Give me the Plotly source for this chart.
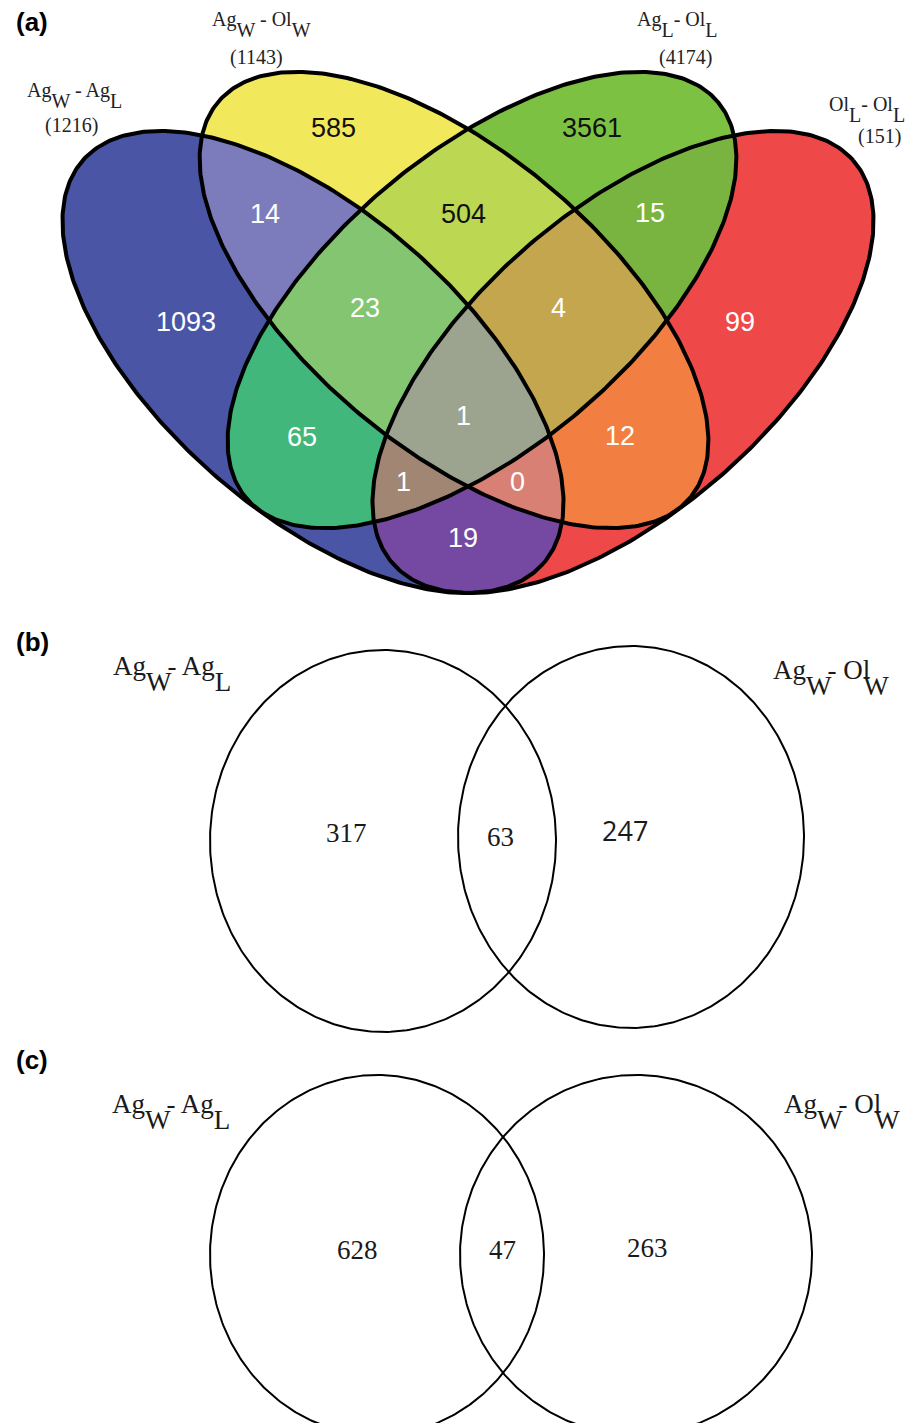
import numpy as np
import plotly.graph_objects as go

W, H = 922, 1423

# ---------------- data ----------------
# panel (a): four comparisons (name parts: text, subscript, text, subscript)
quad_set_parts = [("Ag", "W", " - Ag", "L"),
                  ("Ag", "W", " - Ol", "W"),
                  ("Ag", "L", "- Ol", "L"),
                  ("Ol", "L", "- Ol", "L")]
# exclusive region counts
region_keys = ["A", "B", "C", "D", "AB", "AC", "AD", "BC", "BD", "CD",
               "ABC", "ABD", "ACD", "BCD", "ABCD"]
region_counts = [1093, 585, 3561, 99, 14, 65, 19, 504, 12, 15,
                 23, 0, 1, 4, 1]

# panels (b) and (c): two comparisons each  [left only, shared, right only]
pair_set_parts = [("Ag", "W", "- Ag", "L"), ("Ag", "W", "- Ol", "W")]
pair_b_counts = [317, 63, 247]
pair_c_counts = [628, 47, 263]

# ---------------- styling / layout ----------------
SERIF = "Liberation Serif, Times New Roman, serif"
SANS = "Liberation Sans, Arial, sans-serif"

region_colors = {
    "A": "#4b55a6", "B": "#f1e95b", "C": "#7dc142", "D": "#ee4848",
    "AB": "#7c7bbb", "AC": "#41b77c", "AD": "#7548a2", "BC": "#bcd852",
    "BD": "#f27f41", "CD": "#7ab440",
    "ABC": "#84c571", "ABD": "#d88074", "ACD": "#a18674", "BCD": "#c4a64e",
    "ABCD": "#9ca48f",
}
dark_text_regions = {"B", "C", "BC"}
region_label_xy = {
    "A": (186, 322), "B": (333, 128), "C": (592, 128), "D": (740, 322),
    "AB": (265, 214), "BC": (463, 214), "CD": (650, 213),
    "ABC": (365, 308), "BCD": (558, 308),
    "AC": (302, 437), "ABCD": (463, 416), "BD": (620, 436),
    "ACD": (403, 482), "ABD": (517, 482), "AD": (463, 538),
}
# ellipse geometry in page pixels: cx, cy, semi-major, semi-minor, tilt (deg, y down)
quad_ellipses = {
    "A": (313, 362, 306, 150, 41.2),
    "B": (454, 300, 308, 148, 40.0),
    "C": (482, 300, 308, 148, -40.0),
    "D": (623, 362, 306, 150, -41.2),
}
quad_name_xy = [(74, 95), (261, 24), (677, 24), (867, 109)]
quad_total_xy = [(71, 125), (256, 57), (685, 57), (879, 136)]

pair_panels = [
    dict(counts=pair_b_counts,
         circles=[(383, 841, 173, 191), (631, 837, 173, 191)],
         count_xy=[(346, 833), (500, 837), (625, 830)],
         count_fonts=[SERIF, SERIF, "Open Sans, " + SANS],
         name_xy=[(172, 674), (831, 678)],
         letter_xy=(32, 642), letter="(b)"),
    dict(counts=pair_c_counts,
         circles=[(377, 1255, 167, 180), (636, 1255, 176, 180)],
         count_xy=[(357, 1250), (502, 1250), (647, 1248)],
         count_fonts=[SERIF, SERIF, SERIF],
         name_xy=[(171, 1112), (842, 1112)],
         letter_xy=(32, 1060), letter="(c)"),
]

SUB = '<span style="baseline-shift:-{}px;{}">{}</span>'


def label_html(parts, shift, tight=False):
    """Text with full-size, lowered subscripts."""
    t1, s1, t2, s2 = parts
    if not tight:
        return t1 + SUB.format(shift, "", s1) + t2 + SUB.format(shift, "", s2)
    # compact typesetting: the dash sits against the first subscript,
    # and a subscript after a narrow 'l' tucks under it
    t2 = t2.strip()
    head = t1 + SUB.format(shift, "letter-spacing:-4px;", s1) + t2[:-1]
    if t2.endswith("l"):
        head += '<span style="letter-spacing:-7px">l</span>'
    else:
        head += t2[-1]
    return head + SUB.format(shift, "", s2)


def ellipse_pts(cx, cy, a, b, deg, n=240):
    t = np.linspace(0, 2 * np.pi, n, endpoint=False)
    p = np.radians(deg)
    x = cx + a * np.cos(t) * np.cos(p) - b * np.sin(t) * np.sin(p)
    y = cy + a * np.cos(t) * np.sin(p) + b * np.sin(t) * np.cos(p)
    return list(zip(x.tolist(), y.tolist()))


def clip_convex(subject, clipper):
    """Sutherland-Hodgman clipping of a polygon by a convex polygon."""
    area = 0.0
    for i in range(len(clipper)):
        x0, y0 = clipper[i]
        x1, y1 = clipper[(i + 1) % len(clipper)]
        area += x0 * y1 - x1 * y0
    sgn = 1.0 if area > 0 else -1.0
    out = subject
    n = len(clipper)
    for i in range(n):
        ax, ay = clipper[i]
        bx, by = clipper[(i + 1) % n]
        ex, ey = bx - ax, by - ay
        inp, out = out, []
        if not inp:
            break
        px, py = inp[-1]
        sp = sgn * (ex * (py - ay) - ey * (px - ax))
        for cx_, cy_ in inp:
            sc = sgn * (ex * (cy_ - ay) - ey * (cx_ - ax))
            if sc >= 0:
                if sp < 0:
                    t = sp / (sp - sc)
                    out.append((px + t * (cx_ - px), py + t * (cy_ - py)))
                out.append((cx_, cy_))
            elif sp >= 0:
                t = sp / (sp - sc)
                out.append((px + t * (cx_ - px), py + t * (cy_ - py)))
            px, py, sp = cx_, cy_, sc
    return out


fig = go.Figure()

# ---- panel (a): filled regions, painted from single sets up to the 4-way overlap
polys = {k: ellipse_pts(*v) for k, v in quad_ellipses.items()}
for key in sorted(region_keys, key=len):
    poly = polys[key[0]]
    for s in key[1:]:
        poly = clip_convex(poly, polys[s])
    if len(poly) < 3:
        continue
    xs, ys = zip(*poly)
    fig.add_trace(go.Scatter(x=list(xs), y=list(ys), mode="lines", fill="toself",
                             fillcolor=region_colors[key], line=dict(width=0),
                             hoverinfo="skip", showlegend=False))

for key, v in quad_ellipses.items():
    pts = ellipse_pts(*v, n=400)
    pts.append(pts[0])
    xs, ys = zip(*pts)
    fig.add_trace(go.Scatter(x=list(xs), y=list(ys), mode="lines",
                             line=dict(color="black", width=4),
                             hoverinfo="skip", showlegend=False))

annotations = []


def add_text(x, y, text, size, family, color="black", **kw):
    annotations.append(dict(x=x, y=y, xref="x", yref="y", text=text, showarrow=False,
                            font=dict(size=size, family=family, color=color),
                            xanchor="center", yanchor="middle", **kw))


for key, n in zip(region_keys, region_counts):
    x, y = region_label_xy[key]
    add_text(x, y, str(n), 27, SANS,
             "#111111" if key in dark_text_regions else "white")

set_totals = [sum(n for k, n in zip(region_keys, region_counts) if s in k)
              for s in "ABCD"]
for parts, total, nxy, txy in zip(quad_set_parts, set_totals, quad_name_xy, quad_total_xy):
    add_text(nxy[0], nxy[1], label_html(parts, 11), 20, SERIF, "#222222")
    add_text(txy[0], txy[1], f"({total})", 20, SERIF, "#222222")

add_text(32, 22, "<b>(a)</b>", 26, SANS)

# ---- panels (b) and (c)
for panel in pair_panels:
    for (cx, cy, rx, ry) in panel["circles"]:
        t = np.linspace(0, 2 * np.pi, 400)
        fig.add_trace(go.Scatter(x=cx + rx * np.cos(t), y=cy + ry * np.sin(t),
                                 mode="lines", line=dict(color="black", width=2),
                                 hoverinfo="skip", showlegend=False))
    for n, (x, y), fam in zip(panel["counts"], panel["count_xy"], panel["count_fonts"]):
        add_text(x, y, str(n), 27, fam, "#1a1a1a")
    for parts, (x, y) in zip(pair_set_parts, panel["name_xy"]):
        add_text(x, y, label_html(parts, 16, tight=True), 27, SERIF, "#1a1a1a")
    lx, ly = panel["letter_xy"]
    add_text(lx, ly, "<b>" + panel["letter"] + "</b>", 26, SANS)

fig.update_layout(
    width=W, height=H, margin=dict(l=0, r=0, t=0, b=0),
    paper_bgcolor="white", plot_bgcolor="white",
    xaxis=dict(range=[0, W], visible=False, fixedrange=True),
    yaxis=dict(range=[H, 0], visible=False, fixedrange=True),
    annotations=annotations,
)

fig.write_html("out.html")
